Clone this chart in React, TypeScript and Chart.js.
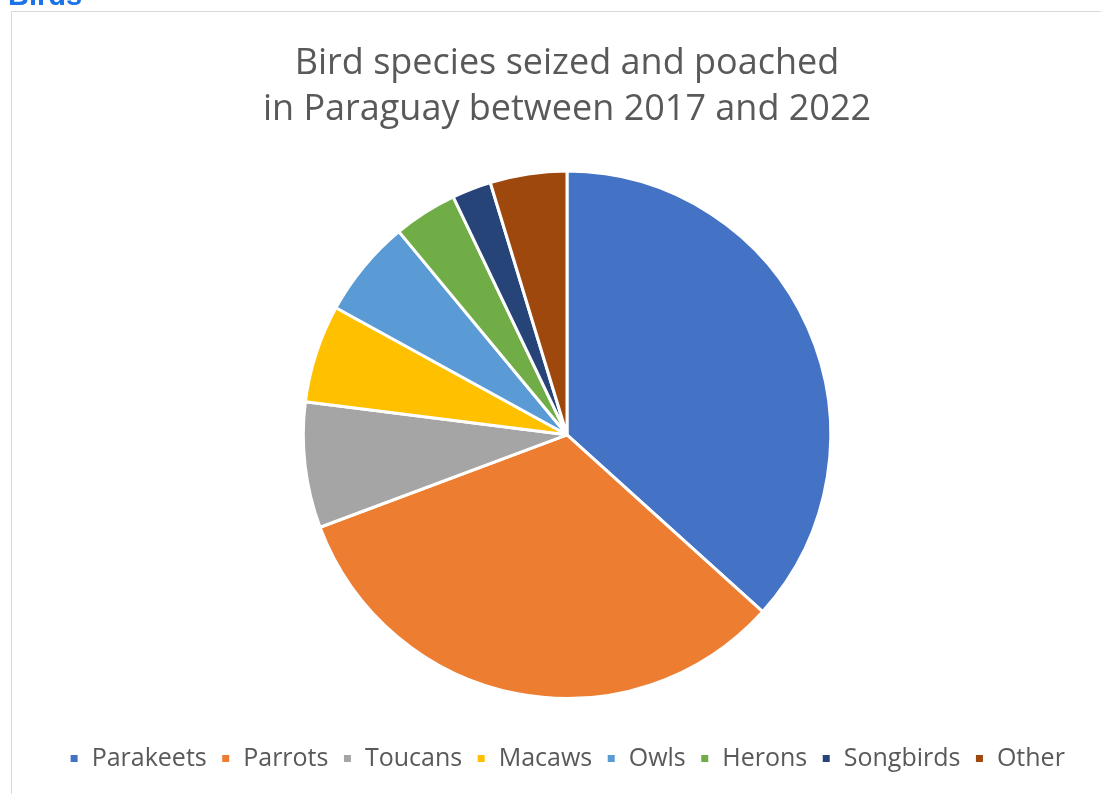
import React, { useEffect, useRef } from "react";
import { Chart, registerables } from "chart.js";

Chart.register(...registerables);

const categories = ["Parakeets", "Parrots", "Toucans", "Macaws", "Owls", "Herons", "Songbirds", "Other"];
const shares = [36.7, 32.6, 7.7, 6.0, 6.0, 3.9, 2.4, 4.7];
const sliceColors = ["#4472C4", "#ED7D31", "#A5A5A5", "#FFC000", "#5B9BD5", "#70AD47", "#264478", "#9E480E"];
const titleLines = ["Bird species seized and poached", "in Paraguay between 2017 and 2022"];

export default function App() {
  const canvasRef = useRef<HTMLCanvasElement | null>(null);

  useEffect(() => {
    const canvas = canvasRef.current;
    if (!canvas) return;
    const chart = new Chart(canvas, {
      type: "pie",
      data: {
        labels: categories,
        datasets: [
          {
            data: shares,
            backgroundColor: sliceColors,
            borderColor: "#ffffff",
            borderWidth: 3,
          },
        ],
      },
      options: {
        responsive: false,
        animation: false,
        maintainAspectRatio: false,
        layout: { padding: { left: 18, right: 0, top: 0, bottom: 13 } },
        plugins: {
          title: {
            display: true,
            text: titleLines,
            color: "#595959",
            font: { family: "Open Sans", size: 36, weight: "normal", lineHeight: 1.3 },
            padding: { top: 28, bottom: 36 },
          },
          legend: {
            display: true,
            position: "bottom",
            title: {
              display: true,
              text: "",
              font: { size: 1, lineHeight: 1 },
              padding: { top: 31, bottom: 0 },
            },
            labels: {
              color: "#595959",
              font: { family: "Open Sans", size: 25 },
              boxWidth: 10,
              boxHeight: 10,
              padding: 14,
            },
          },
          tooltip: { enabled: false },
        },
      },
    });
    return () => chart.destroy();
  }, []);

  return (
    <div style={{ position: "relative", width: 1101, height: 786, overflow: "hidden" }}>
      <div
        style={{
          position: "fixed",
          top: 0,
          left: 8,
          width: 120,
          height: 6,
          overflow: "hidden",
          zIndex: 5,
        }}
      >
        <div
          style={{
            marginTop: -19,
            fontFamily: "Liberation Sans",
            fontWeight: "bold",
            fontSize: 29,
            lineHeight: "29px",
            color: "#1a73e8",
            whiteSpace: "nowrap",
          }}
        >
          Birds
        </div>
      </div>
      <div
        style={{
          position: "absolute",
          top: 3,
          left: 3,
          width: 1095,
          height: 790,
          borderLeft: "1px solid #d9d9d9",
          borderTop: "1px solid #d9d9d9",
          background: "#ffffff",
        }}
      >
        <canvas ref={canvasRef} width={1092} height={782} style={{ display: "block" }} />
      </div>
    </div>
  );
}
